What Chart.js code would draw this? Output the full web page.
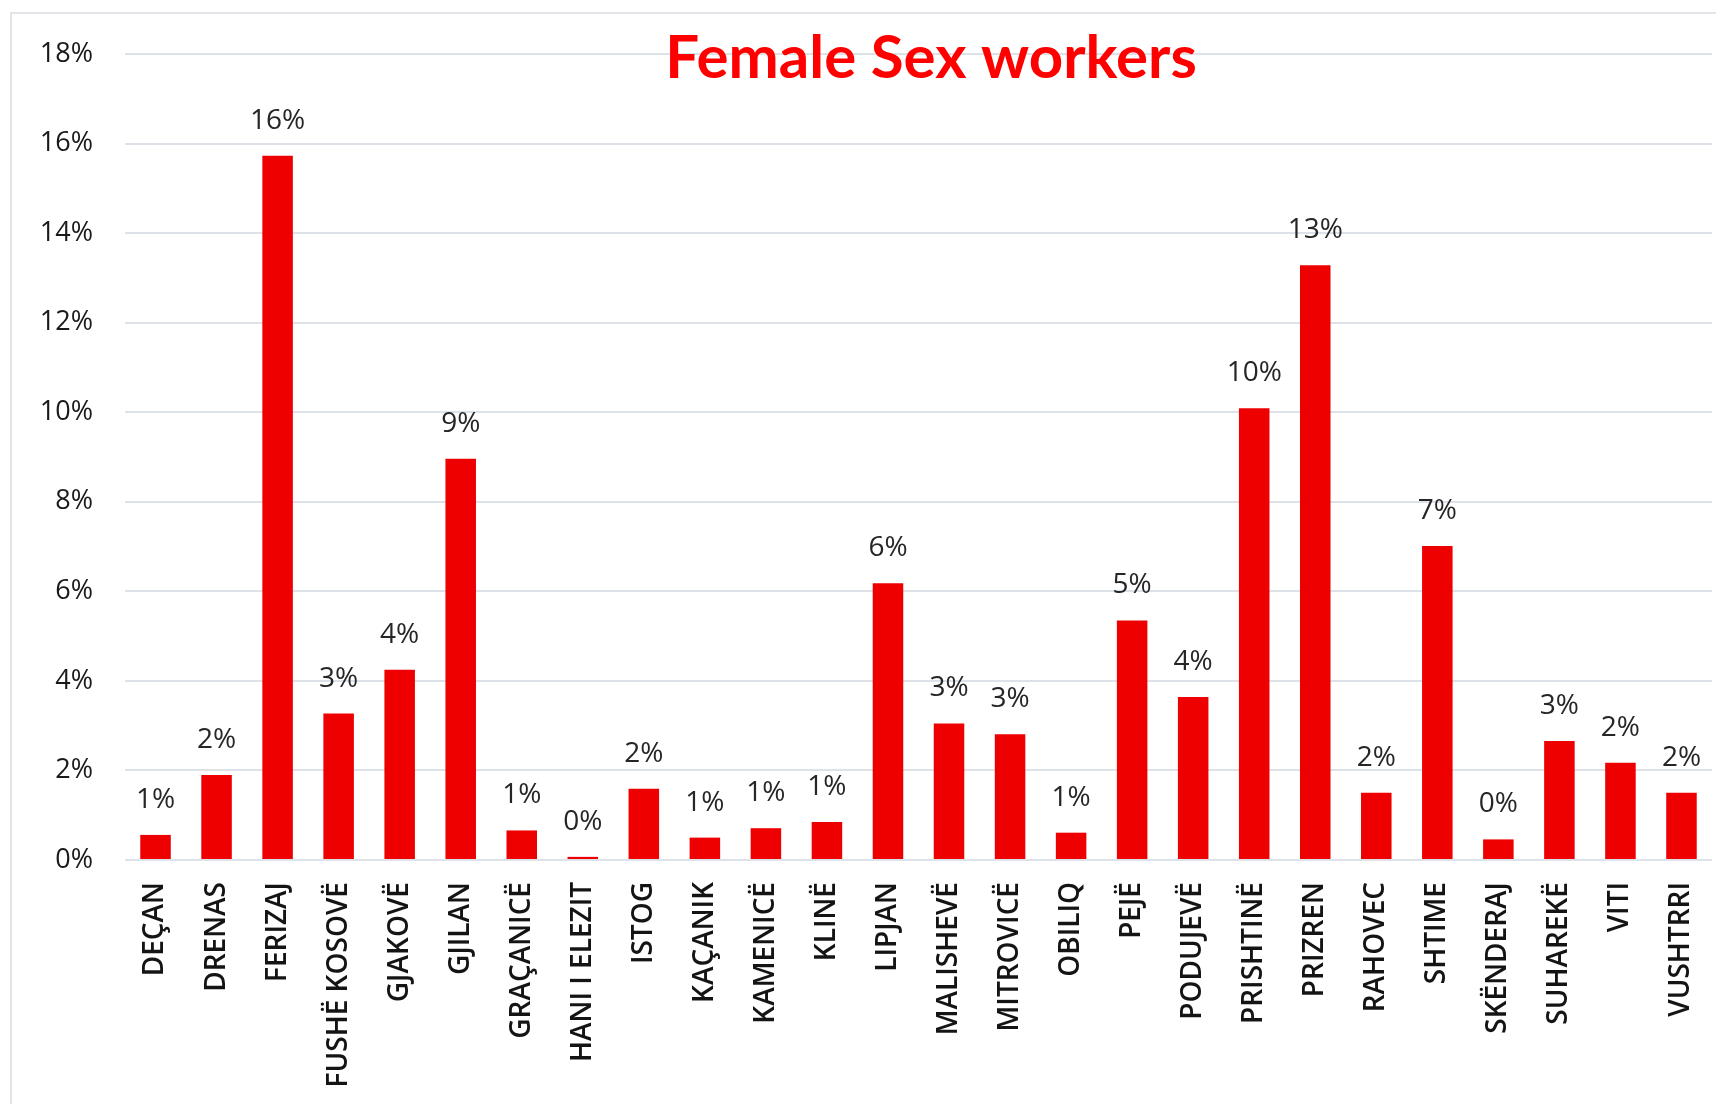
<!DOCTYPE html>
<html lang="en">
<head>
  <meta charset="UTF-8">
  <title>Female Sex workers</title>
  <script src="https://cdn.jsdelivr.net/npm/chart.js"></script>
  <style>
    html, body { margin: 0; padding: 0; background: #fff; overflow: hidden; }
    #wrap { position: relative; width: 1716px; height: 1104px; }
    #frame {
      position: absolute; left: 10px; top: 12px; right: -10px; bottom: -10px;
      border: 2px solid #e1e4e9;
    }
    #chart { position: absolute; left: 0; top: 0; }
  </style>
</head>
<body>
  <div id="wrap">
    <div id="frame"></div>
    <canvas id="chart" width="1716" height="1104"></canvas>
  </div>

  <script>
    const municipalities = [
      'DEÇAN', 'DRENAS', 'FERIZAJ', 'FUSHË KOSOVË', 'GJAKOVË', 'GJILAN',
      'GRAÇANICË', 'HANI I ELEZIT', 'ISTOG', 'KAÇANIK', 'KAMENICË', 'KLINË',
      'LIPJAN', 'MALISHEVË', 'MITROVICË', 'OBILIQ', 'PEJË', 'PODUJEVË',
      'PRISHTINË', 'PRIZREN', 'RAHOVEC', 'SHTIME', 'SKËNDERAJ', 'SUHAREKË',
      'VITI', 'VUSHTRRI'
    ];

    // share of respondents per municipality, in percent
    const shares = [
      0.56, 1.90, 15.73, 3.27, 4.25, 8.96,
      0.66, 0.07, 1.59, 0.50, 0.71, 0.85,
      6.18, 3.05, 2.81, 0.61, 5.35, 3.64,
      10.09, 13.28, 1.50, 7.01, 0.46, 2.66,
      2.17, 1.50
    ];

    const yTicks = [0, 2, 4, 6, 8, 10, 12, 14, 16, 18];

    const labelFont = '"Open Sans", "Noto Sans", sans-serif';

    // percentage labels above each bar
    const barValues = {
      id: 'barValues',
      afterDatasetsDraw(chart) {
        const ctx = chart.ctx;
        const meta = chart.getDatasetMeta(0);
        ctx.save();
        ctx.font = '28px ' + labelFont;
        ctx.fillStyle = '#262626';
        ctx.textAlign = 'center';
        ctx.textBaseline = 'alphabetic';
        meta.data.forEach((bar, i) => {
          ctx.fillText(Math.round(shares[i]) + '%', bar.x, bar.y - 27);
        });
        ctx.restore();
      }
    };

    // heading sits inside the plot, over the top gridline
    const heading = {
      id: 'heading',
      afterDraw(chart) {
        const ctx = chart.ctx;
        ctx.save();
        ctx.font = 'bold 60px Lato, "Open Sans", sans-serif';
        ctx.fillStyle = '#ff0000';
        ctx.textAlign = 'center';
        ctx.textBaseline = 'alphabetic';
        ctx.fillText('Female Sex workers', 931, 78);
        ctx.restore();
      }
    };

    const ctx = document.getElementById('chart').getContext('2d');
    new Chart(ctx, {
      type: 'bar',
      data: {
        labels: municipalities,
        datasets: [{
          data: shares,
          backgroundColor: '#ee0000',
          borderWidth: 0,
          categoryPercentage: 1,
          barPercentage: 0.5
        }]
      },
      options: {
        responsive: false,
        animation: false,
        layout: { padding: { top: 54, right: 4, left: 0, bottom: 0 } },
        plugins: {
          legend: { display: false },
          tooltip: { enabled: false }
        },
        scales: {
          x: {
            grid: { display: false, drawTicks: false },
            border: { display: false },
            ticks: {
              autoSkip: false,
              minRotation: 90,
              maxRotation: 90,
              padding: 22,
              color: '#141414',
              font: { family: labelFont, size: 28, weight: '600' }
            },
            afterFit(scale) {
              scale.height = 244;
              scale.paddingLeft = 0;
              scale.paddingRight = 0;
            }
          },
          y: {
            min: 0,
            max: 18,
            afterBuildTicks(scale) {
              scale.ticks = yTicks.map(v => ({ value: v }));
            },
            grid: { color: '#dde1e8', lineWidth: 2, drawTicks: false },
            border: { display: false },
            ticks: {
              padding: 32,
              color: '#1a1a1a',
              font: { family: labelFont, size: 27 },
              callback: v => v + '%'
            },
            afterFit(scale) { scale.width = 125; }
          }
        }
      },
      plugins: [barValues, heading]
    });
  </script>
</body>
</html>
